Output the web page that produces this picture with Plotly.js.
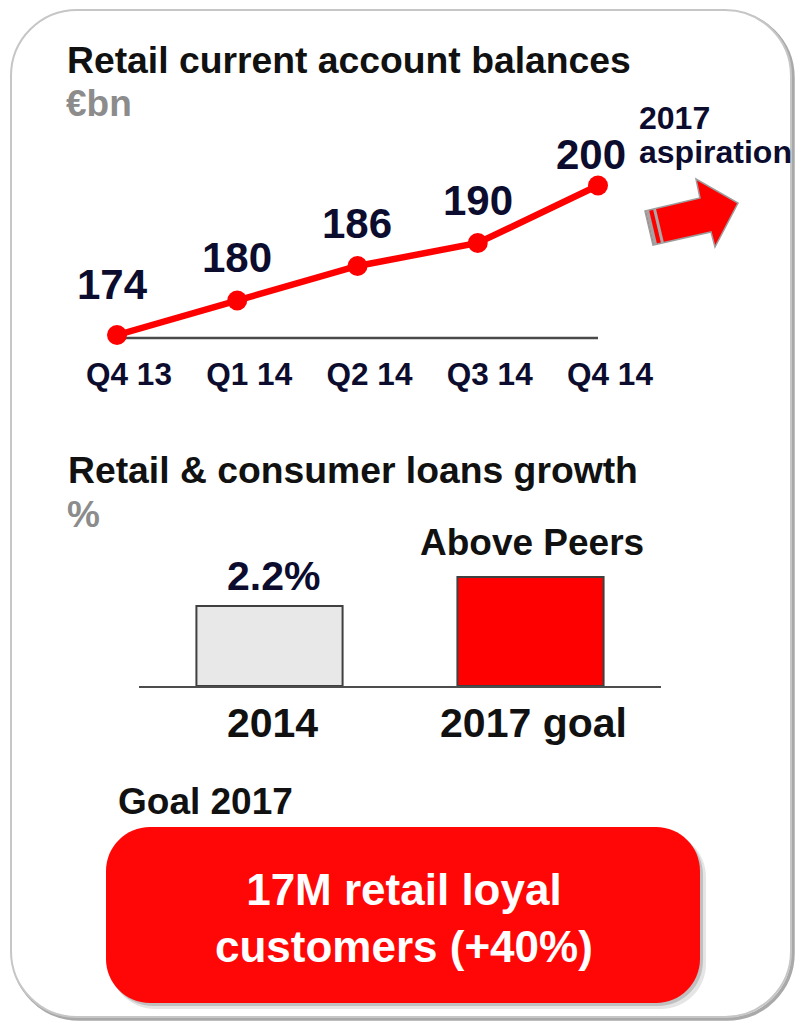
<!DOCTYPE html>
<html>
<head>
<meta charset="utf-8">
<script src="https://cdn.plot.ly/plotly-3.0.1.min.js"></script>
<style>
html,body{margin:0;padding:0;background:#fff;}
#chart{width:798px;height:1022px;}
</style>
</head>
<body>
<div id="chart"></div>
<script>
// ---- data ----
const quarters = ['Q4 13', 'Q1 14', 'Q2 14', 'Q3 14', 'Q4 14'];
const balances = [174, 180, 186, 190, 200];
const balanceLabels = ['174', '180', '186', '190', '200'];
const loanCategories = ['2014', '2017 goal'];
const loanGrowth = [2.2, 3.0];            // 2017 goal bar height
const loanLabels = ['2.2%', 'Above Peers'];

// ---- helpers (page pixels -> paper fractions) ----
const W = 798, H = 1022;
const FONT = 'Liberation Sans, Arial, Helvetica, sans-serif';
const NAVY = '#0c0c2e';
function px(x) { return (x / W).toFixed(5); }
function py(y) { return (1 - y / H).toFixed(5); }
function pt(x, y) { return px(x) + ',' + py(y); }
function rrect(x0, y0, x1, y1, r) {
  const k = 0.5523 * r;
  return 'M' + pt(x0 + r, y0) +
    ' L' + pt(x1 - r, y0) +
    ' C' + pt(x1 - r + k, y0) + ' ' + pt(x1, y0 + r - k) + ' ' + pt(x1, y0 + r) +
    ' L' + pt(x1, y1 - r) +
    ' C' + pt(x1, y1 - r + k) + ' ' + pt(x1 - r + k, y1) + ' ' + pt(x1 - r, y1) +
    ' L' + pt(x0 + r, y1) +
    ' C' + pt(x0 + r - k, y1) + ' ' + pt(x0, y1 - r + k) + ' ' + pt(x0, y1 - r) +
    ' L' + pt(x0, y0 + r) +
    ' C' + pt(x0, y0 + r - k) + ' ' + pt(x0 + r - k, y0) + ' ' + pt(x0 + r, y0) + ' Z';
}
function poly(points) {
  return 'M' + points.map(p => pt(p[0], p[1])).join(' L') + ' Z';
}
function line(x0, y0, x1, y1) {
  return 'M' + pt(x0, y0) + ' L' + pt(x1, y1);
}

// ---- traces ----
const lineTrace = {
  type: 'scatter',
  mode: 'lines+markers',
  x: quarters,
  y: balances,
  xaxis: 'x', yaxis: 'y',
  line: { color: '#ff0000', width: 6.5 },
  marker: { color: '#ff0000', size: 20 },
  cliponaxis: false,
  hoverinfo: 'skip'
};
const barTrace = {
  type: 'bar',
  x: loanCategories,
  y: loanGrowth,
  xaxis: 'x2', yaxis: 'y2',
  width: 0.56,
  marker: { color: ['#e8e8e8', '#ff0000'], line: { color: '#404040', width: 2 } },
  hoverinfo: 'skip'
};

// ---- annotations ----
const annotations = [];
function txt(text, x, y, size, color, anchor) {
  annotations.push({
    text: text, xref: 'paper', yref: 'paper',
    x: parseFloat(px(x)), y: parseFloat(py(y)),
    xanchor: anchor || 'left', yanchor: 'middle',
    showarrow: false,
    font: { family: FONT, size: size, color: color, weight: 'bold' }
  });
}
txt('<b>Retail current account balances</b>', 65, 59.5, 37.3, '#111111');
txt('<b>€bn</b>', 64, 104, 37, '#8c8c8c');
txt('<b>2017</b>', 637, 118, 32, NAVY);
txt('<b>aspiration</b>', 637, 152, 32, NAVY);
txt('<b>Retail & consumer loans growth</b>', 66, 470.5, 37.3, '#111111');
txt('<b>%</b>', 65, 514.5, 37, '#8c8c8c');
txt('<b>Goal 2017</b>', 116, 801, 37, '#111111');
txt('<b>17M retail loyal<br>customers (+40%)</b>', 404, 917.5, 44, '#ffffff', 'center');

balanceLabels.forEach((lab, i) => {
  const last = i === balanceLabels.length - 1;
  annotations.push({
    text: '<b>' + lab + '</b>', xref: 'x', yref: 'y',
    x: i, y: balances[i],
    xanchor: 'center', yanchor: 'middle',
    xshift: last ? -7 : (i === 0 ? -4 : 0),
    yshift: last ? 31 : (i === 0 ? 51 : 43),
    showarrow: false,
    font: { family: FONT, size: 42, color: NAVY }
  });
});
const barLabelStyle = [
  { size: 41, color: NAVY, yshift: 30, xshift: 4 },
  { size: 37, color: '#111111', yshift: 34, xshift: 1 }
];
loanLabels.forEach((lab, i) => {
  const s = barLabelStyle[i];
  annotations.push({
    text: '<b>' + lab + '</b>', xref: 'x2', yref: 'y2',
    x: i, y: loanGrowth[i],
    xanchor: 'center', yanchor: 'middle',
    xshift: s.xshift, yshift: s.yshift,
    showarrow: false,
    font: { family: FONT, size: s.size, color: s.color }
  });
});

// ---- decorative shapes ----
const shapes = [
  // card shadow + card
  { type: 'path', xref: 'paper', yref: 'paper', layer: 'below',
    path: rrect(13, 12, 793, 1019, 66), line: { color: '#a9a9a9', width: 3.5 }, fillcolor: 'rgba(0,0,0,0)' },
  { type: 'path', xref: 'paper', yref: 'paper', layer: 'below',
    path: rrect(11, 10, 791, 1017, 66), line: { color: '#c6c6c6', width: 2 }, fillcolor: '#ffffff' },
  // red box shadow + box
  { type: 'path', xref: 'paper', yref: 'paper', layer: 'below',
    path: rrect(110, 832, 706, 1009, 45), line: { width: 0 }, fillcolor: 'rgba(0,0,0,0.10)' },
  { type: 'path', xref: 'paper', yref: 'paper', layer: 'below',
    path: rrect(108, 830, 703, 1006, 45), line: { width: 0 }, fillcolor: 'rgba(0,0,0,0.16)' },
  { type: 'path', xref: 'paper', yref: 'paper', layer: 'below',
    path: rrect(106, 827, 700, 1003, 44), line: { width: 0 }, fillcolor: '#ff0707' },
  // arrow
  { type: 'path', xref: 'paper', yref: 'paper', layer: 'below',
    path: poly([[645, 211], [700, 198], [696, 179], [738, 203], [715, 247], [711, 232], [653, 245]]),
    line: { color: '#9c9c9c', width: 1.5 }, fillcolor: '#ff0000' },
  { type: 'path', xref: 'paper', yref: 'paper', layer: 'below',
    path: line(647.3, 210.5, 655.3, 244.5), line: { color: '#a4a4a4', width: 3.5 } },
  { type: 'path', xref: 'paper', yref: 'paper', layer: 'below',
    path: line(654.5, 209, 662.5, 243), line: { color: '#a8a8a8', width: 3 } },
  // line chart baseline
  { type: 'line', xref: 'x', yref: 'y domain', x0: 0, x1: 4, y0: 0, y1: 0, layer: 'below',
    line: { color: '#4a4a4a', width: 2.5 } }
];

// ---- layout ----
const layout = {
  width: W, height: H,
  margin: { l: 0, r: 0, t: 0, b: 0, pad: 0 },
  paper_bgcolor: '#ffffff',
  plot_bgcolor: 'rgba(0,0,0,0)',
  showlegend: false,
  xaxis: {
    type: 'category', domain: [56.875 / W, 658.125 / W], range: [-0.5, 4.5],
    anchor: 'y', showgrid: false, zeroline: false, showline: false,
    ticks: 'outside', ticklen: 8, tickcolor: 'rgba(0,0,0,0)',
    ticklabelshift: 12,
    tickfont: { family: FONT, size: 31.5, color: NAVY, weight: 'bold' },
    fixedrange: true
  },
  yaxis: {
    domain: [(H - 338) / H, (H - 140) / H], range: [173.48, 207.91],
    anchor: 'x', visible: false, showgrid: false, zeroline: false, fixedrange: true
  },
  xaxis2: {
    type: 'category', domain: [139 / W, 661 / W], range: [-0.5, 1.5],
    anchor: 'y2', showgrid: false, zeroline: false,
    showline: true, linecolor: '#4d4d4d', linewidth: 2,
    ticks: '', ticklabelshift: 3,
    tickfont: { family: FONT, size: 41, color: '#111111', weight: 'bold' },
    fixedrange: true
  },
  yaxis2: {
    domain: [(H - 686) / H, (H - 560) / H], range: [0, 3.465],
    anchor: 'x2', visible: false, showgrid: false, zeroline: false, fixedrange: true
  },
  shapes: shapes,
  annotations: annotations
};

Plotly.newPlot('chart', [lineTrace, barTrace], layout, { displayModeBar: false, staticPlot: true });
</script>
</body>
</html>
